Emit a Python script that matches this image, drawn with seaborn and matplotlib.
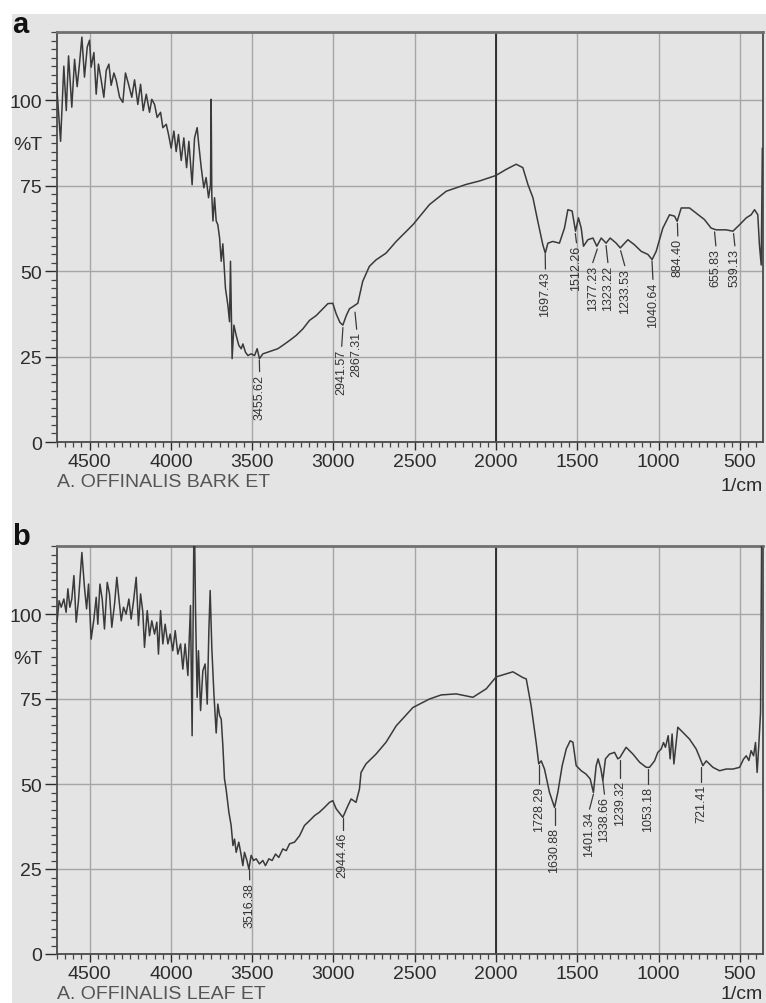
import numpy as np
import pandas as pd
import matplotlib
matplotlib.use("Agg")
import matplotlib.pyplot as plt
import seaborn as sns
from matplotlib.patches import Rectangle
from matplotlib.ticker import MultipleLocator
import matplotlib.transforms as mtransforms

# ---------------- data ----------------
bark_wn = [4703, 4678, 4658, 4643, 4629, 4609, 4592, 4576, 4562, 4547, 4531, 4514, 4500, 4490,
           4473, 4459, 4445, 4428, 4412, 4397, 4381, 4367, 4350, 4336, 4315, 4295, 4279, 4260,
           4240, 4223, 4203, 4186, 4170, 4151, 4131, 4117, 4100, 4084, 4063, 4049, 4028, 4014,
           3998, 3981, 3967, 3953, 3936, 3920, 3903, 3889, 3869, 3854, 3838, 3828, 3813, 3797,
           3783, 3768, 3756, 3752, 3748, 3741, 3731, 3721, 3711, 3700, 3690, 3680, 3664, 3649,
           3639, 3633, 3623, 3612, 3598, 3582, 3567, 3557, 3541, 3526, 3506, 3485, 3469, 3455,
           3434, 3403, 3372, 3342, 3311, 3270, 3229, 3188, 3147, 3106, 3065, 3034, 3004, 2983,
           2960, 2942, 2921, 2901, 2881, 2850, 2820, 2779, 2738, 2676, 2614, 2511, 2409, 2306,
           2183, 2101, 2001, 1937, 1876, 1835, 1804, 1773, 1743, 1712, 1697, 1681, 1651, 1610,
           1579, 1558, 1532, 1511, 1493, 1476, 1462, 1435, 1404, 1380, 1353, 1323, 1298, 1261,
           1236, 1189, 1148, 1107, 1066, 1040, 1015, 974, 933, 902, 886, 861, 810, 769, 718,
           677, 646, 585, 543, 502, 461, 431, 410, 390, 380, 369, 362]
bark_t = [105, 88, 110, 97, 113, 98, 112, 104, 110.6, 118.5, 106.8, 115.6, 117.6, 109.7,
          114, 101.8, 110.6, 105.9, 100.9, 108.8, 110.6, 104.4, 108, 105.9, 100.9, 99.4, 108, 104.7,
          100.9, 106, 98.8, 104.7, 97, 101.8, 96.5, 100.3, 98.8, 95, 96.5, 92, 93, 90,
          86, 91, 85, 90, 82.4, 89, 80.3, 88, 75.3, 89, 92, 87, 80.3, 74.4,
          77.4, 71.5, 75.3, 100.3, 72.4, 64.7, 71.5, 64.7, 63.6, 59.7, 52.9, 58, 45, 40,
          35.2, 52.9, 24.4, 34.2, 31.2, 28.3, 27.3, 28.7, 26.3, 25.3, 25.8, 25.3, 27.3, 24.4,
          25.8, 26.3, 26.8, 27.3, 28.3, 29.7, 31.2, 33.1, 35.6, 37, 39, 40.5, 40.6, 37.5,
          35, 34.2, 37, 39, 39.6, 40.6, 47, 51.4, 53.3, 55.3, 58.7, 63.6, 69.5, 73.4,
          75.4, 76.4, 78, 79.8, 81.3, 80.3, 75.4, 71.5, 64.6, 57.7, 55.3, 58.2, 58.7, 58.2,
          62.6, 68, 67.6, 61.7, 65.6, 62.6, 57.3, 59.2, 59.7, 57.3, 59.7, 58.2, 59.7, 58.2,
          56.8, 59.2, 57.7, 55.8, 54.9, 53.4, 55.8, 62.6, 66.5, 66.1, 64.6, 68.5, 68.5, 67, 65.1,
          62.6, 62.1, 62.1, 61.7, 63.6, 65.6, 66.5, 68, 66.5, 57.7, 51.8, 86]

leaf_wn = [4699, 4687, 4674, 4658, 4644, 4633, 4621, 4609, 4596, 4582, 4568, 4547, 4531, 4518,
           4506, 4490, 4473, 4459, 4449, 4436, 4422, 4408, 4391, 4377, 4363, 4346, 4332, 4320,
           4305, 4291, 4275, 4258, 4244, 4229, 4213, 4199, 4186, 4172, 4162, 4145, 4131, 4117,
           4100, 4086, 4076, 4063, 4049, 4035, 4018, 4004, 3988, 3973, 3957, 3940, 3926, 3912,
           3895, 3879, 3869, 3858, 3854, 3848, 3838, 3830, 3817, 3803, 3789, 3776, 3766, 3758,
           3748, 3735, 3721, 3711, 3700, 3690, 3680, 3670, 3660, 3643, 3629, 3618, 3608, 3598,
           3582, 3567, 3557, 3547, 3532, 3520, 3506, 3491, 3475, 3455, 3434, 3418, 3397, 3377,
           3356, 3336, 3311, 3290, 3270, 3239, 3208, 3178, 3147, 3116, 3086, 3055, 3024, 3004,
           2983, 2942, 2911, 2891, 2861, 2840, 2830, 2800, 2738, 2676, 2614, 2511, 2409, 2337,
           2245, 2142, 2060, 1999, 1896, 1835, 1814, 1784, 1753, 1737, 1722, 1702, 1671, 1640,
           1620, 1593, 1568, 1544, 1527, 1507, 1476, 1446, 1421, 1401, 1384, 1372, 1355, 1343,
           1327, 1302, 1271, 1251, 1238, 1200, 1158, 1117, 1076, 1056, 1025, 1005, 984, 970,
           958, 941, 929, 917, 906, 882, 851, 810, 769, 744, 728, 707, 666, 625, 585, 543,
           502, 478, 461, 445, 431, 416, 404, 394, 384, 373, 366]
leaf_t = [98, 103.9, 102, 104.4, 100.5, 107.4, 102, 104.4, 111.3, 97.6, 103.9, 118.1, 107.8, 101.5,
          108.8, 92.6, 98.5, 104.9, 97, 108.8, 104.4, 95.6, 109.3, 105.9, 96.1, 103, 110.8, 104.9,
          98, 102, 100, 104.4, 98.5, 103.9, 110.8, 96.6, 105.9, 100.5, 90.2, 101, 93.6, 98,
          94.1, 97.6, 88.2, 101, 91.2, 97, 91.2, 94.1, 89.2, 95.1, 88.2, 91.2, 83.8, 91.2,
          81.9, 102.5, 64.2, 125, 125, 101, 75.5, 89.2, 71.6, 83.3, 85.3, 73.5, 95.1, 106.9,
          90.2, 76.5, 65, 73.5, 70.1, 69.1, 61.3, 51.5, 48.5, 41.7, 37.8, 31.9, 33.8, 29.9,
          32.9, 29, 26, 29.9, 27.5, 25, 29, 27.5, 28, 26.5, 27.5, 26, 28, 27.5,
          29.4, 28.4, 30.9, 30.4, 32.4, 32.9, 34.8, 37.8, 39.2, 40.7, 41.7, 43.1, 44.6, 45.1,
          42.7, 40.2, 43.6, 45.6, 44.6, 48.5, 53.4, 55.9, 58.8, 62.3, 67.1, 72.5, 75, 76.2,
          76.5, 75.5, 78, 81.5, 83, 81.3, 80.9, 73, 62.2, 55.9, 56.8, 54.4, 47.5, 43.1,
          47.5, 55.4, 60.3, 62.7, 62.3, 55.4, 53.9, 52.9, 51.5, 47.5, 55.4, 57.4, 54.4, 51,
          57.4, 58.8, 59.3, 57.4, 57.8, 60.8, 58.8, 56.4, 54.9, 54.9, 56.8, 59.3, 60.3, 62.2,
          60.8, 64.2, 57.4, 64.7, 55.9, 66.7, 65.2, 63.2, 60.3, 57.4, 55.4, 56.8, 54.9, 53.9, 54.4, 54.4,
          54.9, 57.3, 58.3, 56.9, 59.8, 58.3, 62.2, 53.4, 61.3, 71.1, 125]

# peak labels: text, leader start x / y, text x / text top y
bark_labels = ["3455.62", "2941.57", "2867.31", "1697.43", "1512.26", "1377.23",
               "1323.22", "1233.53", "1040.64", "884.40", "655.83", "539.13"]
bark_peak_x = [3455.62, 2941.57, 2867.31, 1697.43, 1512.26, 1377.23,
               1323.22, 1233.53, 1040.64, 884.40, 655.83, 539.13]
bark_line_top = [24, 33.5, 38, 55, 61, 56.5, 57.5, 56, 53, 64, 61.5, 61]
bark_text_x = [3454, 2949, 2857, 1696, 1505, 1405, 1312, 1208, 1035, 882, 648, 531]
bark_text_top = [20, 27.4, 32.4, 50, 57.7, 51.9, 51.9, 51, 47, 59.7, 56.8, 56.8]

leaf_labels = ["3516.38", "2944.46", "1728.29", "1630.88", "1401.34", "1338.66",
               "1239.32", "1053.18", "721.41"]
leaf_peak_x = [3516, 2943, 1737, 1640, 1401, 1343, 1240, 1066, 738]
leaf_line_top = [25, 40, 55.5, 43, 47, 51, 57, 54.5, 55]
leaf_text_x = [3515, 2943, 1737, 1640, 1425, 1333, 1240, 1066, 738]
leaf_text_top = [21.2, 35.9, 49.5, 37.3, 42, 46.4, 51.3, 49.5, 50]

titles = ["A. OFFINALIS BARK ET", "A. OFFINALIS LEAF ET"]
panel_letters = ["a", "b"]
y_ticks = [0, 25, 50, 75, 100]
x_ticks = [4500, 4000, 3500, 3000, 2500, 2000, 1500, 1000, 500]

# ---------------- style ----------------
sns.set_style("ticks")
plt.rcParams["font.family"] = ["Liberation Sans", "DejaVu Sans"]

W, H = 766, 1004
BG = "#e4e4e4"
LINE = "#3a3a3a"
TXT = "#2c2c2c"

fig = plt.figure(figsize=(W / 100, H / 100), dpi=100, facecolor="white")
fig.patches.append(Rectangle((12 / W, 0), 1, 1 - 15 / H, transform=fig.transFigure,
                             facecolor=BG, edgecolor="none", zorder=-10))

axes_px = [(57, 33, 763, 443), (57, 547, 763, 955)]
datasets = [(bark_wn, bark_t, bark_labels, bark_peak_x, bark_line_top, bark_text_x, bark_text_top),
            (leaf_wn, leaf_t, leaf_labels, leaf_peak_x, leaf_line_top, leaf_text_x, leaf_text_top)]
letter_baseline = [33, 545]
unit_baseline_off = [48, 44]
title_center_off = [39.5, 39.5]

for i, ((l, t, r, b), ds) in enumerate(zip(axes_px, datasets)):
    wn, tr, labs, px_, ltop, tx, ttop = ds
    ax = fig.add_axes([l / W, 1 - b / H, (r - l) / W, (b - t) / H])
    ax.set_facecolor(BG)
    df = pd.DataFrame({"wn": wn, "T": tr})
    sns.lineplot(data=df, x="wn", y="T", sort=False, estimator=None, ax=ax,
                 color=LINE, linewidth=1.1, zorder=3)
    ax.set_xlim(4700, 358)
    ax.set_ylim(0, 120)
    ax.set_xlabel("")
    ax.set_ylabel("")
    ax.set_xticks(x_ticks)
    ax.set_yticks(y_ticks)
    ax.xaxis.set_minor_locator(MultipleLocator(50))
    ax.yaxis.set_minor_locator(MultipleLocator(2.5))
    ax.grid(True, which="major", color="#a6a6a6", linewidth=1.0)
    ax.set_axisbelow(True)
    ax.axvline(2000, color="#262626", linewidth=1.3, zorder=2)
    ax.tick_params(axis="y", which="major", direction="out", length=8.6, width=1.0,
                   pad=2.2, labelsize=14, colors=TXT)
    ax.tick_params(axis="y", which="minor", direction="out", length=4.5, width=0.9, colors="#444")
    ax.tick_params(axis="x", which="major", direction="out", length=5.5, width=1.0,
                   pad=2.5, labelsize=14, colors=TXT)
    ax.tick_params(axis="x", which="minor", direction="out", length=3.6, width=0.9, colors="#444")
    for name, sp in ax.spines.items():
        sp.set_visible(True)
        sp.set_color("#4a4a4a")
        sp.set_linewidth(1.3)
    ax.spines["top"].set_color("#707070")
    ax.spines["top"].set_linewidth(2.0)

    # peak labels
    for lab, xp, yl, xt, yt in zip(labs, px_, ltop, tx, ttop):
        ax.plot([xp, xt], [yl, yt + 0.6], color="#3a3a3a", linewidth=0.9, zorder=4)
        ax.text(xt, yt, lab, rotation=90, ha="center", va="top", fontsize=9,
                color="#333333", zorder=5)

    # %T
    trans = mtransforms.blended_transform_factory(ax.transAxes, ax.transData)
    ax.text(-15 / (r - l), 87, "%T", transform=trans, ha="right", va="center",
            fontsize=14, color=TXT)
    # title and unit
    hgt = b - t
    ax.text(0.0, -title_center_off[i] / hgt, titles[i], transform=ax.transAxes,
            ha="left", va="center", fontsize=14, color="#555555")
    ax.text(1.0, -unit_baseline_off[i] / hgt, "1/cm", transform=ax.transAxes,
            ha="right", va="baseline", fontsize=14, color=TXT)

    fig.text(12 / W, 1 - letter_baseline[i] / H, panel_letters[i], ha="left", va="baseline",
             fontsize=21, fontweight="bold", color="#111111")

fig.savefig("out.png", dpi=100, facecolor=fig.get_facecolor())
